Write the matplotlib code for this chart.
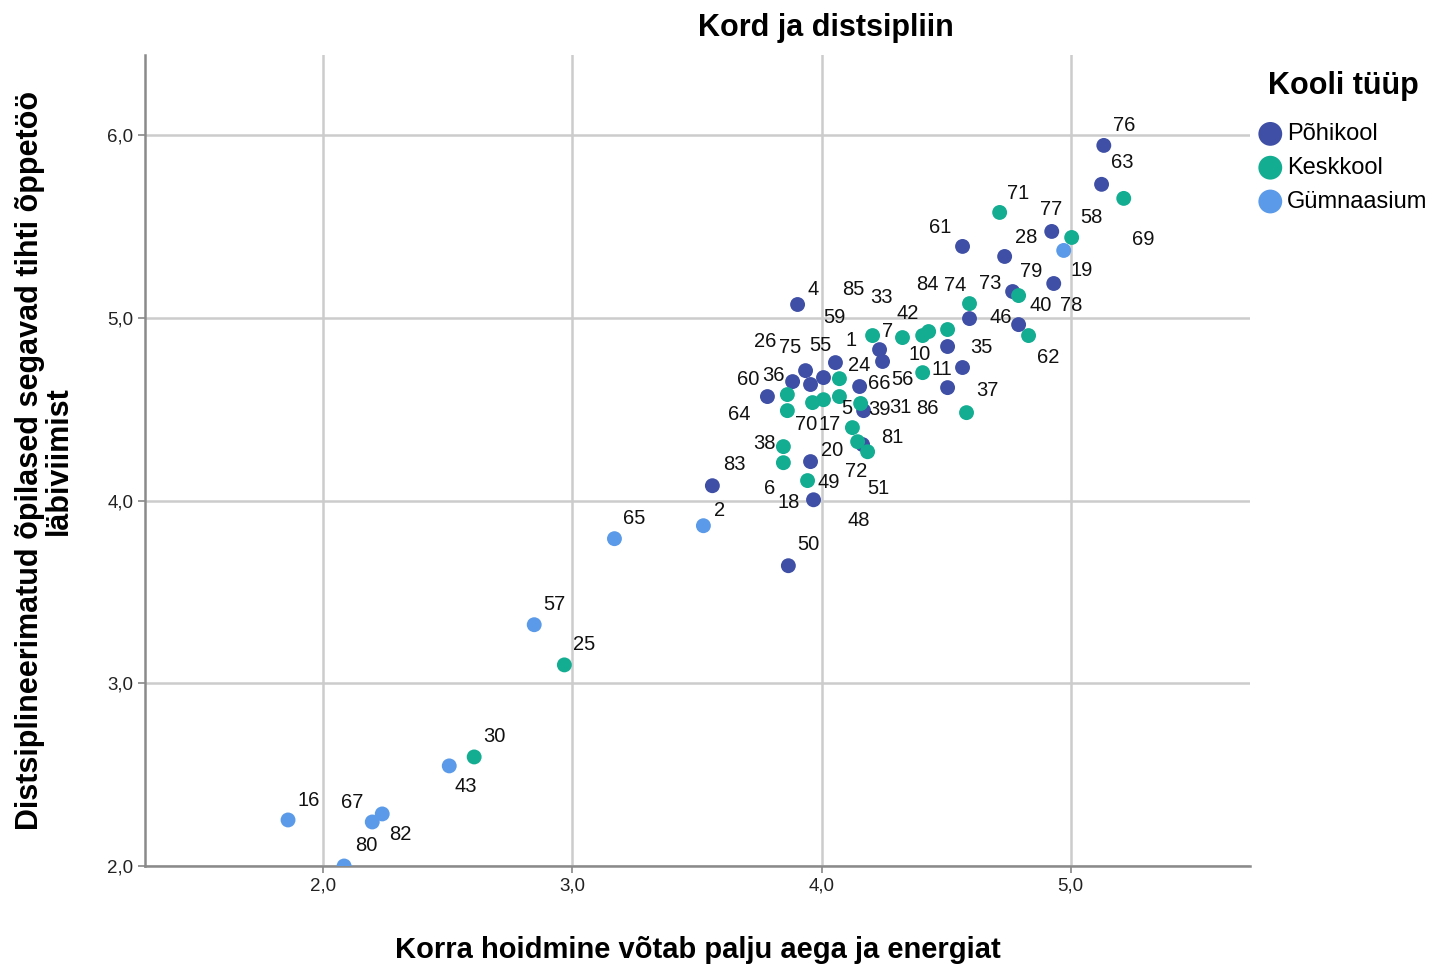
import numpy as np
import matplotlib
matplotlib.use('Agg')
import matplotlib.pyplot as plt
from matplotlib.ticker import FuncFormatter

plt.rcParams['font.family'] = ['Liberation Sans', 'DejaVu Sans']

# Points per school type
pohikool_x = [3.904, 4.233, 4.245, 4.506, 4.594, 4.767, 4.791, 4.566, 4.506, 4.056,
              3.936, 3.956, 4.008, 3.884, 3.783, 4.153, 4.169, 4.165, 3.956, 3.968,
              3.867, 3.562, 5.133, 5.124, 4.924, 4.566, 4.735, 4.932]
pohikool_y = [5.074, 4.827, 4.762, 4.844, 4.997, 5.145, 4.964, 4.729, 4.619, 4.756,
              4.712, 4.636, 4.674, 4.652, 4.570, 4.625, 4.493, 4.307, 4.214, 4.005,
              3.644, 4.082, 5.945, 5.732, 5.474, 5.392, 5.337, 5.189]

keskkool_x = [4.205, 4.325, 4.406, 4.430, 4.506, 4.594, 4.791, 4.831, 4.406, 4.582,
              3.863, 3.863, 3.964, 4.008, 4.072, 4.072, 4.157, 4.124, 4.145, 4.185,
              3.847, 3.847, 3.944, 5.213, 4.715, 5.004, 2.968, 2.606]
keskkool_y = [4.904, 4.893, 4.904, 4.926, 4.937, 5.079, 5.123, 4.904, 4.701, 4.482,
              4.581, 4.493, 4.537, 4.553, 4.668, 4.570, 4.532, 4.400, 4.323, 4.268,
              4.296, 4.208, 4.110, 5.655, 5.578, 5.441, 3.101, 2.597]

gymn_x = [4.972, 3.526, 3.169, 2.847, 2.506, 1.859, 2.237, 2.197, 2.084]
gymn_y = [5.370, 3.863, 3.792, 3.321, 2.548, 2.252, 2.285, 2.241, 2.000]

# Case labels and where they sit
label_ids = ['76', '63', '71', '77', '58', '69', '61', '28', '19', '79', '84', '74', '73',
             '40', '78', '46', '4', '85', '33', '59', '42', '7', '1', '26', '75', '55',
             '35', '62', '10', '24', '11', '60', '36', '66', '56', '37', '5', '39', '31',
             '86', '64', '70', '17', '81', '38', '20', '83', '72', '49', '51', '6', '18',
             '2', '48', '65', '50', '57', '25', '30', '43', '16', '67', '82', '80']
label_x = [5.213, 5.205, 4.791, 4.920, 5.084, 5.293, 4.478, 4.823, 5.044, 4.843, 4.426,
           4.538, 4.675, 4.880, 5.004, 4.719, 3.968, 4.129, 4.241, 4.052, 4.345, 4.265,
           4.120, 3.775, 3.876, 3.996, 4.643, 4.908, 4.394, 4.153, 4.482, 3.707, 3.807,
           4.233, 4.325, 4.667, 4.100, 4.233, 4.317, 4.426, 3.671, 3.940, 4.032, 4.285,
           3.771, 4.044, 3.651, 4.137, 4.028, 4.229, 3.791, 3.867, 3.590, 4.149, 3.249,
           3.948, 2.928, 3.048, 2.687, 2.574, 1.940, 2.116, 2.309, 2.173]
label_y = [6.055, 5.852, 5.682, 5.595, 5.551, 5.430, 5.496, 5.441, 5.260, 5.255, 5.184,
           5.178, 5.189, 5.068, 5.068, 5.003, 5.156, 5.156, 5.112, 5.003, 5.025, 4.926,
           4.877, 4.871, 4.838, 4.849, 4.838, 4.784, 4.800, 4.740, 4.718, 4.663, 4.685,
           4.641, 4.663, 4.603, 4.504, 4.499, 4.510, 4.504, 4.471, 4.416, 4.416, 4.345,
           4.312, 4.274, 4.197, 4.159, 4.099, 4.066, 4.066, 3.989, 3.945, 3.890, 3.901,
           3.759, 3.430, 3.211, 2.707, 2.433, 2.356, 2.345, 2.175, 2.110]

groups = ['Põhikool', 'Keskkool', 'Gümnaasium']
colors = ['#3e4fa5', '#13ad92', '#5a9ae8']

fig = plt.figure(figsize=(14.43, 9.65), dpi=100)
ax = fig.add_axes([0.1005, 0.1026, 0.7658, 0.8404])

for name, xs, ys, c in zip(groups, [pohikool_x, keskkool_x, gymn_x],
                           [pohikool_y, keskkool_y, gymn_y], colors):
    ax.scatter(xs, ys, s=115, color=c, edgecolors='none', label=name, zorder=3)

for lid, lx, ly in zip(label_ids, label_x, label_y):
    ax.text(lx, ly, lid, ha='center', va='center', fontsize=14.5, color='#111111', zorder=4)

ax.set_xlim(1.285, 5.72)
ax.set_ylim(2.0, 6.44)
ax.set_xticks([2.0, 3.0, 4.0, 5.0])
ax.set_yticks([2.0, 3.0, 4.0, 5.0, 6.0])
comma = FuncFormatter(lambda v, p: f'{v:.1f}'.replace('.', ','))
ax.xaxis.set_major_formatter(comma)
ax.yaxis.set_major_formatter(comma)
ax.tick_params(axis='both', labelsize=13.5, colors='#888888', labelcolor='#222222',
               length=5, width=1.2)
ax.grid(True, color='#cccccc', linewidth=1.8, zorder=0)
ax.set_axisbelow(True)
for side in ['top', 'right']:
    ax.spines[side].set_visible(False)
for side in ['left', 'bottom']:
    ax.spines[side].set_color('#8a8a8a')
    ax.spines[side].set_linewidth(1.8)

# title is centred over the whole chart (plot + legend), not the axes
ax.set_title('Kord ja distsipliin', fontsize=22, fontweight='bold', pad=14, x=0.616)
ax.set_xlabel('Korra hoidmine võtab palju aega ja energiat', fontsize=21,
              fontweight='bold', labelpad=30)
ax.set_ylabel('Distsiplineerimatud õpilased segavad tihti õppetöö\nläbiviimist',
              fontsize=22, fontweight='bold', labelpad=24, linespacing=0.95)

leg = ax.legend(loc='upper left', bbox_to_anchor=(0.998, 0.995), frameon=False,
                title='Kooli tüüp', title_fontproperties={'size': 22, 'weight': 'bold'},
                fontsize=17, markerscale=1.6, handlelength=0.9, handletextpad=0.25,
                labelspacing=0.5, borderpad=0.2, borderaxespad=0.3)
leg._legend_box.sep = 16

plt.savefig('out.png', dpi=100)
